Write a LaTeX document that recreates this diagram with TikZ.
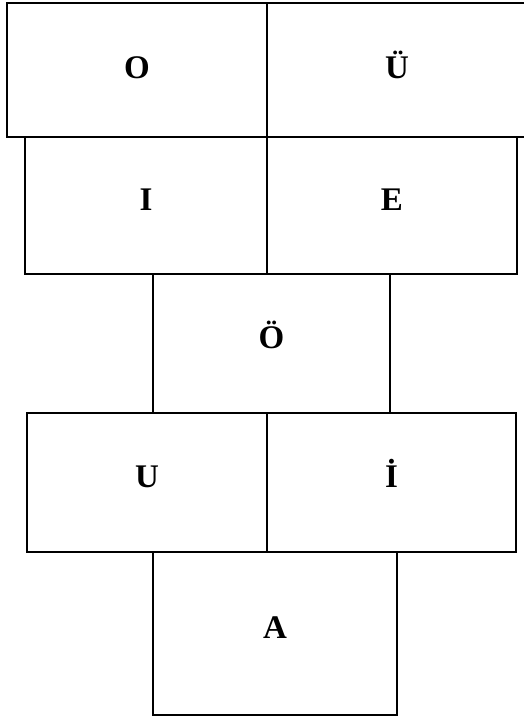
\documentclass[tikz,border=0pt]{standalone}
\usepackage{fontspec}
\setmainfont{Liberation Serif}
\begin{document}
\begin{tikzpicture}[x=1pt,y=-1pt,
  cell/.style={draw=black, line width=2pt, rectangle, inner sep=0pt, outer sep=0pt,
    font=\fontsize{33}{40}\selectfont\bfseries, text height=23pt, text depth=14pt},
  toprow/.style={cell, text depth=7pt}]
\useasboundingbox (0,0) rectangle (524,718);
\clip (0,0) rectangle (524,718);
\fill[white] (0,0) rectangle (524,718);
% row 1
\node[toprow, minimum width=260pt, minimum height=134pt] (o) at (137,70) {O};
\node[toprow, minimum width=260pt, minimum height=134pt] (ue) at (397,70) {Ü};
% row 2
\node[cell, minimum width=242pt, minimum height=137pt] (i) at (146,205.5) {I};
\node[cell, minimum width=250pt, minimum height=137pt] (e) at (392,205.5) {E};
% row 3
\node[cell, minimum width=237pt, minimum height=139pt] (oe) at (271.5,343.5) {Ö};
% row 4
\node[cell, minimum width=240pt, minimum height=139pt] (u) at (147,482.5) {U};
\node[cell, minimum width=249pt, minimum height=139pt] (idot) at (391.5,482.5) {İ};
% row 5
\node[cell, minimum width=244pt, minimum height=163pt] (a) at (275,633.5) {A};
\end{tikzpicture}
\end{document}
